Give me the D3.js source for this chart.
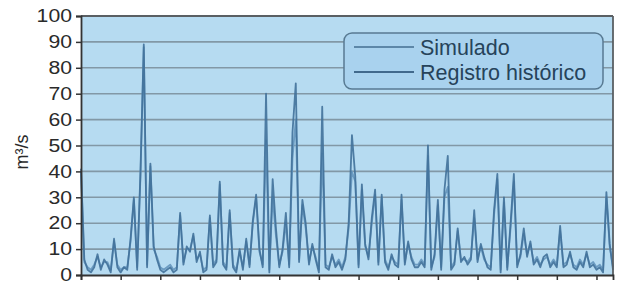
<!DOCTYPE html>
<html><head><meta charset="utf-8">
<script src="https://cdn.jsdelivr.net/npm/d3@7"></script>
<style>html,body{margin:0;padding:0;background:#fff;}svg{display:block;}</style>
</head><body>
<svg id="c" width="620" height="286"></svg>
<script>
const yTicks = [0,10,20,30,40,50,60,70,80,90,100];
const seriesNames = ["Simulado","Registro histórico"];
const registro = [41,6,2,1,3,8,2,6,4,1,14,3,1,3,2,14,30,2,40,89,3,43,11,6,2,1,2,3,1,2,
24,4,11,9,16,5,9,1,2,23,3,5,36,4,2,25,3,1,10,2,14,3,21,31,10,3,70,1,37,18,
3,10,24,3,55,74,5,29,20,4,12,6,1,65,3,2,8,3,5,2,6,20,54,38,3,35,12,6,22,33,
4,31,5,2,8,4,3,31,4,13,6,3,3,5,3,50,2,8,29,2,33,46,2,4,18,5,7,4,6,25,
5,12,7,3,2,25,39,1,30,2,20,39,3,8,18,7,13,4,6,3,7,8,3,5,3,19,3,4,9,3,
2,5,3,9,3,4,2,3,1,32,12,2];
const simulado = [40,5,3,2,4,7,3,5,5,2,13,4,2,3,3,13,29,3,38,88,4,42,10,7,3,2,3,4,2,3,
23,5,10,10,15,6,8,2,3,22,4,6,35,5,3,24,4,2,9,3,13,4,20,30,9,4,52,2,30,15,
4,9,20,4,45,60,6,27,18,5,11,7,2,47,4,3,7,4,6,3,7,18,40,36,4,33,11,7,20,31,
5,30,6,3,7,5,4,29,5,12,7,4,4,6,4,46,3,7,27,3,30,34,3,5,17,6,6,5,7,22,
6,11,6,4,3,23,37,2,28,3,18,36,4,7,16,8,12,5,7,4,6,7,4,6,4,17,4,5,8,4,
3,6,4,8,4,5,3,4,2,30,11,3];

const svg = d3.select("#c");
const m = {l:81, r:613, t:16, b:275};
const x = d3.scaleLinear().domain([0, registro.length-1]).range([m.l, m.r]);
const y = d3.scaleLinear().domain([0,100]).range([m.b, m.t]);
const font = "'Liberation Sans', Arial, sans-serif";

svg.append("rect").attr("x",m.l).attr("y",m.t).attr("width",m.r-m.l).attr("height",m.b-m.t).attr("fill","#b6dbf1");

// gridlines
svg.append("g").selectAll("line").data(yTicks.filter(d=>d>0&&d<100)).join("line")
  .attr("x1",m.l).attr("x2",m.r).attr("y1",d=>y(d)).attr("y2",d=>y(d))
  .attr("stroke","#8298a6").attr("stroke-width",1.6);

// lines
const line = d3.line().x((d,i)=>x(i)).y(d=>y(d));
svg.append("path").datum(simulado).attr("d",line).attr("fill","none")
  .attr("stroke","#6c9cc2").attr("stroke-width",1.8).attr("stroke-linejoin","round");
svg.append("path").datum(registro).attr("d",line).attr("fill","none")
  .attr("stroke","#41719a").attr("stroke-width",1.8).attr("stroke-linejoin","round").attr("opacity",0.9);

// frame
svg.append("line").attr("x1",m.l).attr("x2",m.r).attr("y1",m.t).attr("y2",m.t).attr("stroke","#5a5f63").attr("stroke-width",1.8);
svg.append("line").attr("x1",m.r).attr("x2",m.r).attr("y1",m.t).attr("y2",m.b).attr("stroke","#5a5f63").attr("stroke-width",1.8);

// y axis
const yAxis = d3.axisLeft(y).tickValues(yTicks).tickSize(5).tickPadding(4);
const gy = svg.append("g").attr("transform",`translate(${m.l},0)`).call(yAxis);
gy.select(".domain").attr("stroke","#333").attr("stroke-width",1.8);
gy.selectAll(".tick line").attr("stroke","#333").attr("stroke-width",1.5);
gy.selectAll(".tick text").attr("font-family",font).attr("font-size",18).attr("fill","#2a2a2a")
  .attr("textLength",d=>String(d).length*11.8).attr("lengthAdjust","spacingAndGlyphs");

// x axis
const xTickVals = d3.range(0, registro.length, 12);
const xAxis = d3.axisBottom(x).tickValues(xTickVals).tickSize(5).tickFormat("");
const gx = svg.append("g").attr("transform",`translate(0,${m.b})`).call(xAxis);
gx.select(".domain").attr("stroke","#333").attr("stroke-width",1.8);
gx.selectAll(".tick line").attr("stroke","#333").attr("stroke-width",1.5);

// y label
svg.append("text").attr("transform","translate(28,152) rotate(-90)").attr("text-anchor","middle")
  .attr("font-family",font).attr("font-size",18).attr("fill","#2a2a2a").text("m³/s");

// legend
const lg = svg.append("g");
lg.append("rect").attr("x",344).attr("y",33).attr("width",259).attr("height",56).attr("rx",8)
  .attr("fill","#a9d2ee").attr("stroke","#587a92").attr("stroke-width",1.5);
const legColors = ["#5d87a8","#41698c"];
seriesNames.forEach((n,i)=>{
  const yy = 47 + i*25;
  lg.append("line").attr("x1",354).attr("x2",414).attr("y1",yy).attr("y2",yy).attr("stroke",legColors[i]).attr("stroke-width",1.8);
  lg.append("text").attr("x",420).attr("y",yy+7.5).attr("font-family",font).attr("font-size",21.5).attr("fill","#26435a").text(n);
});
</script>
</body></html>
